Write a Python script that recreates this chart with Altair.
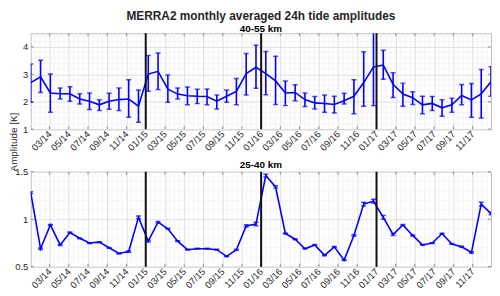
import json
import altair as alt
import pandas as pd

# ---------------- data ----------------
month_index = list(range(48))  # Jan 2014 .. Dec 2017

upper_amp = [2.70, 2.91, 2.32, 2.29, 2.29, 2.10, 2.02, 1.89, 2.02, 2.08, 2.10, 1.84,
             3.01, 3.11, 2.46, 2.28, 2.22, 2.20, 2.19, 2.02, 2.20, 2.38, 3.03, 3.26,
             3.03, 2.76, 2.32, 2.34, 2.08, 1.96, 1.94, 1.90, 2.04, 2.20, 2.70, 3.27,
             3.34, 2.64, 2.28, 2.15, 1.89, 1.94, 1.78, 1.89, 2.23, 2.07, 2.29, 2.73]
upper_hi = [3.38, 3.51, 3.01, 2.50, 2.55, 2.29, 2.32, 2.07, 2.31, 2.50, 2.80, 2.43,
            3.69, 3.78, 2.98, 2.50, 2.54, 2.46, 2.47, 2.25, 2.43, 2.85, 3.76, 4.06,
            3.83, 3.66, 2.76, 2.62, 2.32, 2.19, 2.25, 2.20, 2.31, 2.80, 3.82, 4.80,
            3.88, 3.06, 2.68, 2.37, 2.20, 2.19, 2.07, 2.13, 2.63, 2.67, 3.18, 3.28]
upper_lo = [1.98, 2.34, 1.62, 2.10, 2.02, 1.92, 1.72, 1.68, 1.73, 1.68, 1.44, 1.25,
            2.38, 2.45, 1.98, 2.10, 1.89, 1.94, 1.89, 1.74, 1.98, 1.89, 2.25, 2.49,
            2.26, 1.90, 1.86, 2.04, 1.83, 1.74, 1.62, 1.59, 1.92, 1.56, 1.84, 1.86,
            2.82, 2.16, 1.84, 1.90, 1.56, 1.68, 1.47, 1.62, 1.89, 1.44, 1.41, 2.20]

lower_amp = [1.28, 0.69, 0.94, 0.73, 0.86, 0.80, 0.75, 0.76, 0.70, 0.64, 0.66, 1.02,
             0.77, 0.97, 0.90, 0.77, 0.68, 0.69, 0.69, 0.68, 0.61, 0.68, 0.93, 0.95,
             1.46, 1.34, 0.85, 0.79, 0.69, 0.73, 0.62, 0.71, 0.57, 0.83, 1.16, 1.19,
             1.02, 0.84, 0.94, 0.83, 0.73, 0.75, 0.85, 0.74, 0.71, 0.65, 1.16, 1.06]
lower_err = [0.010, 0.008, 0.006, 0.005, 0.005, 0.004, 0.004, 0.004, 0.004, 0.005, 0.008, 0.015,
             0.010, 0.008, 0.006, 0.005, 0.004, 0.004, 0.004, 0.004, 0.005, 0.006, 0.012, 0.018,
             0.015, 0.012, 0.006, 0.005, 0.004, 0.004, 0.004, 0.004, 0.005, 0.008, 0.020, 0.020,
             0.020, 0.010, 0.006, 0.005, 0.004, 0.004, 0.004, 0.004, 0.005, 0.008, 0.020, 0.012]

tick_labels = ["03/14", "05/14", "07/14", "09/14", "11/14", "01/15",
               "03/15", "05/15", "07/15", "09/15", "11/15", "01/16",
               "03/16", "05/16", "07/16", "09/16", "11/16", "01/17",
               "03/17", "05/17", "07/17", "09/17", "11/17"]
year_starts = ["01/15", "01/16", "01/17"]
upper_yticks = [1, 2, 3, 4]
lower_yticks = [0.5, 1, 1.5]

main_title = "MERRA2 monthly averaged 24h tide amplitudes"
upper_title = "40-55 km"
lower_title = "25-40 km"
y_title = "Amplitude [K]"

# ---------------- styling / layout ----------------
FONT = "Liberation Sans"
BLUE = "#0000ff"
TXT = "#262626"
GRID = "#dedede"
MINOR = "#f1f1f1"
W = 465
H1 = 97
H2 = 96

# calendar ticks on the month-index axis
T0 = 1.92      # axis position of the 03/14 tick
TSTEP = 1.964  # two months
tick_pos = [T0 + TSTEP * k for k in range(len(tick_labels))]
year_pos = [tick_pos[tick_labels.index(s)] for s in year_starts]
minor_x = [T0 + TSTEP / 4 * k for k in range(-4, 4 * len(tick_labels) + 4)
           if k % 4 != 0 and 0 <= T0 + TSTEP / 4 * k <= 47]

label_expr = f"{json.dumps(tick_labels)}[round((datum.value - {T0}) / {TSTEP})]"


def text_layer(txt, x, y, size, weight, color, angle=0, baseline="alphabetic"):
    return alt.Chart(pd.DataFrame({"t": [txt]})).mark_text(
        font=FONT, fontSize=size, fontWeight=weight, color=color, angle=angle,
        align="center", baseline=baseline
    ).encode(text="t:N", x=alt.value(x), y=alt.value(y))


def panel(amp, lo, hi, ydom, yvals, yminor, h, texts):
    df = pd.DataFrame({"x": month_index, "amp": amp, "lo": lo, "hi": hi})
    xs = alt.Scale(domain=[0, 47], nice=False, zero=False)
    ys = alt.Scale(domain=ydom, nice=False, zero=False)
    xaxis = alt.Axis(values=tick_pos, labelExpr=label_expr, grid=True, gridColor=GRID,
                     ticks=False, domain=False, labelAngle=-45, labelAlign="right",
                     labelBaseline="middle", labelPadding=3, labelFontSize=9.5,
                     labelColor=TXT, labelFont=FONT, labelOverlap=False,
                     labelFlush=False, title=None)
    yaxis = alt.Axis(values=yvals, format="~g", grid=True, gridColor=GRID, ticks=False,
                     domain=False, labelPadding=3, labelFontSize=9.5, labelColor=TXT,
                     labelFont=FONT, title=None)
    X = alt.X("x:Q", scale=xs, axis=xaxis)

    def Y(f):
        return alt.Y(f"{f}:Q", scale=ys, axis=yaxis)

    mx = alt.Chart(pd.DataFrame({"x": minor_x})).mark_rule(
        color=MINOR, strokeWidth=0.8).encode(x=X)
    my = alt.Chart(pd.DataFrame({"lo": yminor})).mark_rule(
        color=MINOR, strokeWidth=0.8).encode(y=Y("lo"))
    tx_top = alt.Chart(pd.DataFrame({"x": tick_pos})).mark_rule(
        color="#8c8c8c").encode(x=X, y=alt.value(0), y2=alt.value(3))
    tx_bot = alt.Chart(pd.DataFrame({"x": tick_pos})).mark_rule(
        color="#8c8c8c").encode(x=X, y=alt.value(h), y2=alt.value(h - 3))
    ty_l = alt.Chart(pd.DataFrame({"lo": yvals})).mark_rule(
        color="#8c8c8c").encode(y=Y("lo"), x=alt.value(0), x2=alt.value(3))
    ty_r = alt.Chart(pd.DataFrame({"lo": yvals})).mark_rule(
        color="#8c8c8c").encode(y=Y("lo"), x=alt.value(W), x2=alt.value(W - 3))

    base = alt.Chart(df)
    bars = base.mark_rule(color=BLUE, strokeWidth=1.6, clip=True).encode(
        x=X, y=Y("lo"), y2="hi:Q")
    cap_lo = base.mark_tick(color=BLUE, orient="horizontal", size=5, thickness=1.5,
                            clip=True).encode(x=X, y=Y("lo"))
    cap_hi = base.mark_tick(color=BLUE, orient="horizontal", size=5, thickness=1.5,
                            clip=True).encode(x=X, y=Y("hi"))
    line = base.mark_line(color=BLUE, strokeWidth=1.6, clip=True).encode(
        x=X, y=Y("amp"))
    years = alt.Chart(pd.DataFrame({"x": year_pos})).mark_rule(
        color="#111111", strokeWidth=2).encode(x=X)

    return alt.layer(mx, my, tx_top, tx_bot, ty_l, ty_r, bars, cap_lo, cap_hi,
                     line, years, *texts).properties(width=W, height=h)


top = panel(upper_amp, upper_lo, upper_hi, [1, 4.5], upper_yticks,
            [round(1 + 0.2 * k, 2) for k in range(1, 18) if k % 5 != 0], H1,
            [text_layer(main_title, W / 2, -22.5, 12, "bold", TXT, baseline="top"),
             text_layer(upper_title, W / 2, -1.5, 10, "bold", "#000000"),
             text_layer(y_title, -17, 110, 10, "normal", TXT, angle=270,
                        baseline="middle")])
bottom = panel(lower_amp, [a - e for a, e in zip(lower_amp, lower_err)],
               [a + e for a, e in zip(lower_amp, lower_err)], [0.5, 1.5], lower_yticks,
               [round(0.5 + 0.1 * k, 2) for k in range(1, 10) if k != 5], H2,
               [text_layer(lower_title, W / 2, -4, 10, "bold", "#000000")])

chart = alt.vconcat(top, bottom, spacing=43, bounds="flush").properties(
    padding=0).configure_view(stroke="#bdbdbd", strokeWidth=1)

chart.save("out.html", embed_options={"renderer": "svg", "actions": False})
